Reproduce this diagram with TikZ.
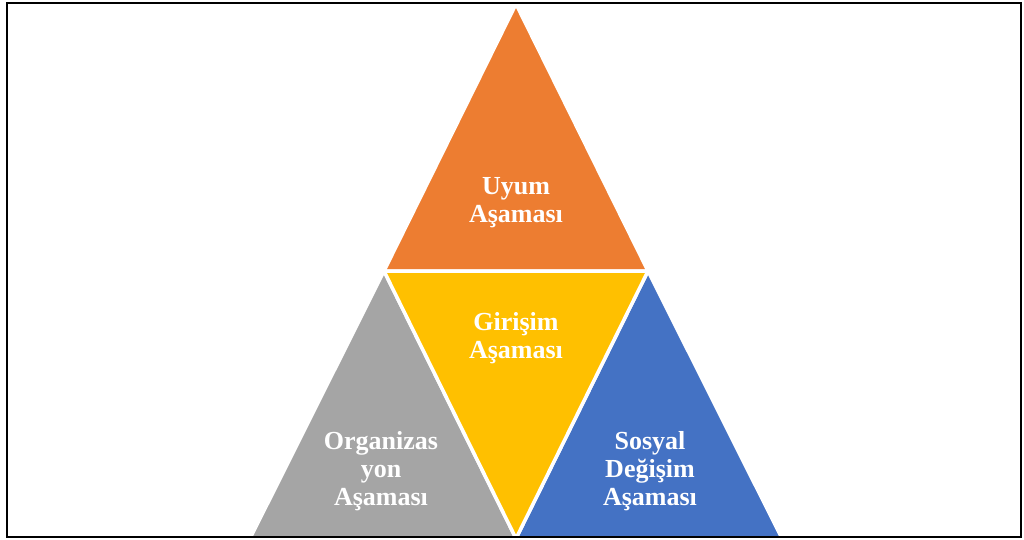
\documentclass[tikz,border=0pt]{standalone}
\usepackage{fontspec}
\setmainfont{Liberation Serif}
\definecolor{uyumcol}{HTML}{ED7D31}
\definecolor{giriscol}{HTML}{FFC000}
\definecolor{orgcol}{HTML}{A5A5A5}
\definecolor{sosyalcol}{HTML}{4472C4}

\begin{document}
\begin{tikzpicture}[x=1pt, y=-1pt,
  tri/.style={draw=white, line width=3.5pt, line join=miter},
  lbl/.style={text=white, align=center, font=\fontsize{26}{28}\selectfont\bfseries, inner sep=0pt}]
\useasboundingbox (0,0) rectangle (1024,539);

\coordinate (top) at (516,4);
\coordinate (ml) at (384,271);
\coordinate (mr) at (648,271);
\coordinate (bl) at (250,538.5);
\coordinate (bm) at (516,538.5);
\coordinate (br) at (782,538.5);

\filldraw[tri, fill=uyumcol] (top) -- (mr) -- (ml) -- cycle;
\filldraw[tri, fill=orgcol] (ml) -- (bm) -- (bl) -- cycle;
\filldraw[tri, fill=sosyalcol] (mr) -- (br) -- (bm) -- cycle;
\filldraw[tri, fill=giriscol] (ml) -- (mr) -- (bm) -- cycle;

\node[lbl] (uyum) at (516,203) {Uyum\\Aşaması};
\node[lbl] (giris) at (516,338) {Girişim\\Aşaması};
\node[lbl] (org) at (381,471) {Organizas\\yon\\Aşaması};
\node[lbl] (sosyal) at (650,471) {Sosyal\\Değişim\\Aşaması};

\draw[line width=1.6pt] (7,3) rectangle (1021,537);
\end{tikzpicture}
\end{document}
